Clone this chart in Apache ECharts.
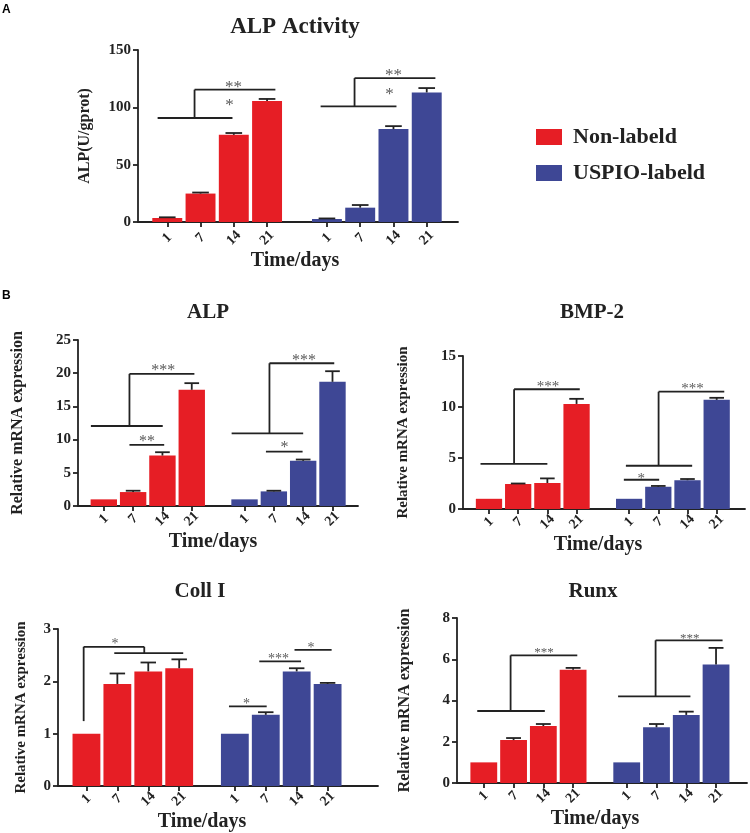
<!DOCTYPE html>
<html>
<head>
<meta charset="utf-8">
<script src="https://cdn.jsdelivr.net/npm/echarts@6/dist/echarts.min.js"></script>
<style>
html, body { margin: 0; padding: 0; background: #ffffff; }
#chart { width: 750px; height: 833px; }
</style>
</head>
<body>
<div id="chart"></div>
<script>
// ---------------- DATA ----------------
const days = ['1', '7', '14', '21'];
const groupNames = ['Non-labeld', 'USPIO-labeld'];
const xAxisTitle = 'Time/days';

// Panel A: ALP Activity
const actRed = [3.5, 24.8, 76.0, 105.5];
const actRedErr = [0.6, 0.9, 1.6, 1.8];
const actBlue = [2.6, 12.5, 81.0, 113.0];
const actBlueErr = [0.5, 2.3, 2.6, 3.8];
// significance bracket segments [x1, y1, x2, y2] in axis units
const actSegs = [
  [-0.29, 90.7, 1.96, 90.7], [0.82, 90.7, 0.82, 115.4], [0.82, 115.4, 3.25, 115.4],
  [4.61, 100.9, 6.89, 100.9], [5.63, 100.9, 5.63, 125.5], [5.63, 125.5, 8.06, 125.5]
];
const actStars = [[1.87, 103.5, '*'], [1.99, 119.6, '**'], [6.68, 113.0, '*'], [6.8, 129.8, '**']];

// Panel B: ALP mRNA
const alpRed = [1.0, 2.1, 7.6, 17.5];
const alpRedErr = [0, 0.2, 0.5, 1.0];
const alpBlue = [1.0, 2.2, 6.8, 18.7];
const alpBlueErr = [0, 0.1, 0.2, 1.6];
const alpSegs = [
  [-0.44, 12.05, 2.01, 12.05], [0.875, 12.05, 0.875, 19.9], [0.875, 19.9, 3.09, 19.9], [0.875, 9.2, 2.06, 9.2],
  [4.36, 10.95, 6.8, 10.95], [5.65, 10.95, 5.65, 21.5], [5.65, 21.5, 7.86, 21.5], [5.53, 8.2, 6.78, 8.2]
];
const alpStars = [[2.03, 20.7, '***'], [1.47, 10.1, '**'], [6.83, 22.2, '***'], [6.16, 9.1, '*']];

// Panel B: BMP-2 mRNA
const bmpRed = [1.0, 2.45, 2.55, 10.3];
const bmpRedErr = [0, 0.05, 0.45, 0.5];
const bmpBlue = [1.0, 2.18, 2.82, 10.7];
const bmpBlueErr = [0, 0.08, 0.12, 0.2];
const bmpSegs = [
  [-0.29, 4.43, 2.0, 4.43], [0.86, 4.43, 0.86, 11.74], [0.86, 11.74, 3.11, 11.74],
  [4.69, 4.24, 6.96, 4.24], [5.81, 4.24, 5.81, 11.5], [5.81, 11.5, 8.06, 11.5], [4.62, 2.87, 5.83, 2.87]
];
const bmpStars = [[2.02, 12.16, '***'], [6.97, 12.0, '***'], [5.22, 3.2, '*']];

// Panel B: Coll I mRNA
const colRed = [1.0, 1.95, 2.19, 2.25];
const colRedErr = [0, 0.2, 0.17, 0.17];
const colBlue = [1.0, 1.36, 2.19, 1.95];
const colBlueErr = [0, 0.05, 0.06, 0.02];
const colSegs = [
  [-0.09, 1.24, -0.09, 2.66], [-0.09, 2.66, 1.87, 2.66], [1.87, 2.66, 1.87, 2.54], [0.9, 2.54, 3.13, 2.54],
  [4.61, 1.52, 5.83, 1.52], [5.59, 2.38, 6.94, 2.38], [6.73, 2.6, 7.93, 2.6]
];
const colStars = [[0.92, 2.74, '*'], [5.18, 1.61, '*'], [6.21, 2.46, '***'], [7.26, 2.68, '*']];

// Panel B: Runx mRNA
const runRed = [1.0, 2.08, 2.76, 5.49];
const runRedErr = [0, 0.1, 0.1, 0.09];
const runBlue = [1.0, 2.7, 3.3, 5.75];
const runBlueErr = [0, 0.16, 0.16, 0.8];
const runSegs = [
  [-0.22, 3.49, 2.05, 3.49], [0.9, 3.49, 0.9, 6.19], [0.9, 6.19, 3.14, 6.19],
  [4.51, 4.2, 6.94, 4.2], [5.77, 4.2, 5.77, 6.92], [5.77, 6.92, 8.02, 6.92]
];
const runStars = [[2.02, 6.4, '***'], [6.92, 7.11, '***']];

// ---------------- LAYOUT / STYLE ----------------
const SERIF = "'Liberation Serif', 'Times New Roman', Times, serif";
const SANS = "'Liberation Sans', Arial, Helvetica, sans-serif";
const RED = '#E61E25';
const BLUE = '#3E4795';
const INK = '#222222';
const STAR = '#5a5a5a';
const GROUP_GAP = 0.8;   // extra spacing between the two groups (in bar slots)

const panels = [
  { title: 'ALP Activity', titleX: 295, titleY: 27, titleSize: 23,
    yName: 'ALP(U/gprot)', yNameSize: 16, yNameGap: 45, yMax: 150, yStep: 50,
    red: actRed, redErr: actRedErr, blue: actBlue, blueErr: actBlueErr, segs: actSegs, stars: actStars, starSize: 17,
    box: { left: 138, top: 50, width: 320, height: 172 }, xMin: -0.88, xMax: 8.74, xNameGap: 28, xNameShift: 6, labelMargin: 16 },
  { title: 'ALP', titleX: 208, titleY: 313, titleSize: 21,
    yName: 'Relative mRNA expression', yNameSize: 16, yNameGap: 52, yMax: 25, yStep: 5,
    red: alpRed, redErr: alpRedErr, blue: alpBlue, blueErr: alpBlueErr, segs: alpSegs, stars: alpStars, starSize: 16,
    box: { left: 78, top: 340, width: 280, height: 166 }, xMin: -0.88, xMax: 8.67, xNameGap: 26, xNameShift: 10, labelMargin: 13 },
  { title: 'BMP-2', titleX: 592, titleY: 313, titleSize: 21,
    yName: 'Relative mRNA expression', yNameSize: 15, yNameGap: 52, yMax: 15, yStep: 5,
    red: bmpRed, redErr: bmpRedErr, blue: bmpBlue, blueErr: bmpBlueErr, segs: bmpSegs, stars: bmpStars, starSize: 15,
    box: { left: 463, top: 356, width: 282, height: 153 }, xMin: -0.89, xMax: 8.77, xNameGap: 24, xNameShift: 12, labelMargin: 13 },
  { title: 'Coll I', titleX: 200, titleY: 592, titleSize: 21,
    yName: 'Relative mRNA expression', yNameSize: 15, yNameGap: 29, yMax: 3, yStep: 1,
    red: colRed, redErr: colRedErr, blue: colBlue, blueErr: colBlueErr, segs: colSegs, stars: colStars, starSize: 14,
    box: { left: 58, top: 629, width: 320, height: 157 }, xMin: -0.92, xMax: 9.43, xNameGap: 24, xNameShift: 32, labelMargin: 13 },
  { title: 'Runx', titleX: 593, titleY: 592, titleSize: 21,
    yName: 'Relative mRNA expression', yNameSize: 16, yNameGap: 44, yMax: 8, yStep: 2,
    red: runRed, redErr: runRedErr, blue: runBlue, blueErr: runBlueErr, segs: runSegs, stars: runStars, starSize: 13,
    box: { left: 457, top: 618, width: 290, height: 165 }, xMin: -0.9, xMax: 8.84, xNameGap: 26, xNameShift: 14, labelMargin: 13 }
];

function pos(group, i) { return group * (days.length + GROUP_GAP) + i; }
const tickPositions = [];
const tickLabels = [];
for (let g = 0; g < 2; g++) {
  for (let i = 0; i < days.length; i++) { tickPositions.push(pos(g, i)); tickLabels.push(days[i]); }
}
function labelFor(v) {
  const k = tickPositions.findIndex(p => Math.abs(p - v) < 1e-6);
  return k >= 0 ? tickLabels[k] : '';
}

const grids = [], xAxes = [], yAxes = [], series = [], graphics = [];
const lineStyle = { color: INK, width: 1.8 };

panels.forEach((p, k) => {
  grids.push({ left: p.box.left, top: p.box.top, width: p.box.width, height: p.box.height, containLabel: false });
  xAxes.push({
    type: 'value', gridIndex: k, min: p.xMin, max: p.xMax,
    axisLine: { show: true, onZero: false, lineStyle: lineStyle },
    axisTick: { show: true, length: 5, lineStyle: lineStyle, customValues: tickPositions },
    axisLabel: { customValues: tickPositions, formatter: labelFor, rotate: 45, margin: p.labelMargin,
      align: 'center', verticalAlign: 'middle',
      fontFamily: SERIF, fontWeight: 'bold', fontSize: 14, color: INK },
    splitLine: { show: false },
    name: xAxisTitle, nameLocation: 'middle', nameGap: p.xNameGap,
    nameTextStyle: { fontFamily: SERIF, fontWeight: 'bold', fontSize: 20, color: INK, padding: [0, p.xNameShift, 0, 0] }
  });
  yAxes.push({
    type: 'value', gridIndex: k, min: 0, max: p.yMax, interval: p.yStep,
    axisLine: { show: true, onZero: false, lineStyle: lineStyle },
    axisTick: { show: true, length: 5, lineStyle: lineStyle },
    axisLabel: { margin: 7, fontFamily: SERIF, fontWeight: 'bold', fontSize: 15, color: INK },
    splitLine: { show: false },
    name: p.yName, nameLocation: 'middle', nameGap: p.yNameGap,
    nameTextStyle: { fontFamily: SERIF, fontWeight: 'bold', fontSize: p.yNameSize, color: INK }
  });
  const groupsData = [[p.red, p.redErr, RED], [p.blue, p.blueErr, BLUE]];
  groupsData.forEach((gd, g) => {
    series.push({
      type: 'bar', name: groupNames[g], xAxisIndex: k, yAxisIndex: k,
      data: gd[0].map((v, i) => [pos(g, i), v]),
      barWidth: '90%', barGap: '-100%',
      itemStyle: { color: gd[2] }, silent: true, z: 2
    });
  });
  const errData = [];
  groupsData.forEach((gd, g) => gd[0].forEach((v, i) => errData.push([pos(g, i), v, gd[1][i]])));
  series.push({
    type: 'custom', xAxisIndex: k, yAxisIndex: k, data: errData, silent: true, z: 3,
    itemStyle: { color: INK },
    renderItem: (params, api) => {
      const x = api.value(0), y = api.value(1), e = api.value(2);
      if (!e) return null;
      const base = api.coord([x, y]);
      const top = api.coord([x, y + e]);
      const hw = api.size([0.25, 0])[0];
      return { type: 'group', children: [
        { type: 'line', shape: { x1: base[0], y1: base[1], x2: top[0], y2: top[1] }, style: { stroke: INK, lineWidth: 1.8 } },
        { type: 'line', shape: { x1: top[0] - hw, y1: top[1], x2: top[0] + hw, y2: top[1] }, style: { stroke: INK, lineWidth: 1.8 } }
      ]};
    }
  });
  series.push({
    type: 'custom', xAxisIndex: k, yAxisIndex: k, data: p.segs, silent: true, z: 4,
    itemStyle: { color: INK },
    encode: { x: [0, 2], y: [1, 3] },
    renderItem: (params, api) => {
      const a = api.coord([api.value(0), api.value(1)]);
      const b = api.coord([api.value(2), api.value(3)]);
      return { type: 'line', shape: { x1: a[0], y1: a[1], x2: b[0], y2: b[1] }, style: { stroke: INK, lineWidth: 1.8 } };
    }
  });
  series.push({
    type: 'custom', xAxisIndex: k, yAxisIndex: k, data: p.stars.map(s => [s[0], s[1]]), silent: true, z: 5,
    itemStyle: { color: STAR },
    renderItem: (params, api) => {
      const c = api.coord([api.value(0), api.value(1)]);
      return { type: 'text', x: c[0], y: c[1] + p.starSize * 0.15,
        style: { text: p.stars[params.dataIndex][2], textAlign: 'center', textVerticalAlign: 'middle',
          fontFamily: SERIF, fontSize: p.starSize, fill: STAR } };
    }
  });
  graphics.push({ type: 'text', x: p.titleX, y: p.titleY,
    style: { text: p.title, textAlign: 'center', textVerticalAlign: 'middle',
      fontFamily: SERIF, fontWeight: 'bold', fontSize: p.titleSize, fill: INK } });
});

graphics.push({ type: 'text', x: 2, y: 4, style: { text: 'A', fontFamily: SANS, fontWeight: 'bold', fontSize: 12, fill: '#000' } });
graphics.push({ type: 'text', x: 2, y: 290, style: { text: 'B', fontFamily: SANS, fontWeight: 'bold', fontSize: 12, fill: '#000' } });

const chart = echarts.init(document.getElementById('chart'), null, { renderer: 'canvas' });
chart.setOption({
  animation: false,
  backgroundColor: '#ffffff',
  grid: grids, xAxis: xAxes, yAxis: yAxes, series: series,
  legend: {
    data: groupNames, orient: 'vertical', left: 536, top: 126, padding: 0,
    itemWidth: 26, itemHeight: 16, itemGap: 14, icon: 'rect', selectedMode: false,
    textStyle: { fontFamily: SERIF, fontWeight: 'bold', fontSize: 22, color: INK, padding: [0, 0, 0, 6] }
  },
  graphic: graphics
});
</script>
</body>
</html>
